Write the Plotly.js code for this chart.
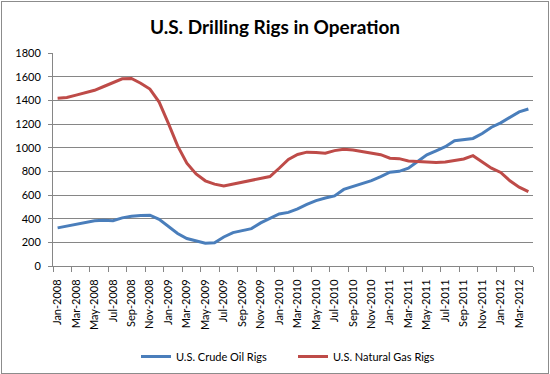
<!DOCTYPE html>
<html>
<head>
<meta charset="utf-8">
<script src="https://cdn.plot.ly/plotly-3.0.1.min.js"></script>
<style>
  html, body { margin: 0; padding: 0; background: #fff; }
  #wrap { position: relative; width: 550px; height: 374px; }
  #chart { width: 550px; height: 374px; }
  #frame { position: absolute; left: 1px; top: 1px; width: 548px; height: 373px; box-sizing: border-box; border: 1px solid #8c8c8c; pointer-events: none; }
</style>
</head>
<body>
<div id="wrap"><div id="chart"></div><div id="frame"></div></div>
<script>
const months = [
  "Jan-2008","Feb-2008","Mar-2008","Apr-2008","May-2008","Jun-2008","Jul-2008","Aug-2008","Sep-2008","Oct-2008","Nov-2008","Dec-2008",
  "Jan-2009","Feb-2009","Mar-2009","Apr-2009","May-2009","Jun-2009","Jul-2009","Aug-2009","Sep-2009","Oct-2009","Nov-2009","Dec-2009",
  "Jan-2010","Feb-2010","Mar-2010","Apr-2010","May-2010","Jun-2010","Jul-2010","Aug-2010","Sep-2010","Oct-2010","Nov-2010","Dec-2010",
  "Jan-2011","Feb-2011","Mar-2011","Apr-2011","May-2011","Jun-2011","Jul-2011","Aug-2011","Sep-2011","Oct-2011","Nov-2011","Dec-2011",
  "Jan-2012","Feb-2012","Mar-2012","Apr-2012"
];
const oilRigs = [
  322, 338, 353, 371, 383, 386, 383, 407, 420, 426, 429, 395,
  335, 275, 232, 215, 192, 196, 245, 282, 300, 316, 364, 405,
  440, 453, 482, 520, 552, 575, 592, 647, 670, 695, 722, 756,
  793, 800, 826, 883, 939, 973, 1008, 1058, 1066, 1078, 1120, 1173,
  1210, 1257, 1302, 1327
];
const gasRigs = [
  1418, 1424, 1444, 1463, 1485, 1517, 1551, 1582, 1585, 1545, 1495, 1385,
  1205, 1015, 869, 778, 720, 692, 677, 692, 707, 724, 735, 756,
  826, 900, 942, 962, 960, 953, 975, 987, 981, 968, 951, 941,
  911, 907, 887, 882, 877, 875, 878, 892, 904, 932, 880, 827,
  791, 720, 666, 628
];
const seriesNames = ["U.S. Crude Oil Rigs", "U.S. Natural Gas Rigs"];
const chartTitle = "U.S. Drilling Rigs in Operation";

const idx = months.map((m, i) => i);
const labelIdx = idx.filter(i => i % 2 === 0);
const labelText = labelIdx.map(i => months[i]);

const font = "Lato, 'Open Sans', sans-serif";

const traces = [
  { x: idx, y: oilRigs, name: seriesNames[0], type: "scatter", mode: "lines",
    line: { color: "#4A7EBB", width: 3 }, text: months, hoverinfo: "text+y" },
  { x: idx, y: gasRigs, name: seriesNames[1], type: "scatter", mode: "lines",
    line: { color: "#BE4B48", width: 3 }, text: months, hoverinfo: "text+y" }
];

const layout = {
  width: 550, height: 374,
  margin: { l: 53, r: 17, t: 53, b: 108, autoexpand: false },
  paper_bgcolor: "#ffffff", plot_bgcolor: "#ffffff",
  font: { family: font, size: 11, color: "#000" },
  title: { text: chartTitle, font: { family: font, size: 19, color: "#000", weight: "bold" },
           x: 0.5, xanchor: "center", y: 0.928, yanchor: "middle" },
  showlegend: true,
  legend: { orientation: "h", x: 0.5, xanchor: "center", y: -0.425, yanchor: "middle",
            font: { family: font, size: 11, color: "#000" }, entrywidth: 112, itemwidth: 30,
            bgcolor: "rgba(0,0,0,0)" },
  xaxis: {
    range: [-0.5, months.length - 0.5],
    tickmode: "array", tickvals: labelIdx, ticktext: labelText,
    tickangle: -90, ticks: "", ticklabelstandoff: 8, automargin: false,
    tickfont: { family: font, size: 11, color: "#000" },
    showgrid: false, zeroline: false,
    showline: true, linecolor: "#868686", linewidth: 1,
    minor: { tick0: -0.5, dtick: 2, ticks: "outside", ticklen: 5, tickcolor: "#868686", tickwidth: 1, showgrid: false }
  },
  yaxis: {
    range: [0, 1800], dtick: 200, tick0: 0, automargin: false,
    ticks: "outside", ticklen: 4, tickcolor: "#868686", ticklabelstandoff: 5,
    tickfont: { family: font, size: 11, color: "#000" },
    showgrid: true, gridcolor: "#868686", gridwidth: 1,
    zeroline: false, showline: true, linecolor: "#868686", linewidth: 1
  }
};

Plotly.newPlot("chart", traces, layout, { displayModeBar: false, staticPlot: true });
</script>
</body>
</html>
